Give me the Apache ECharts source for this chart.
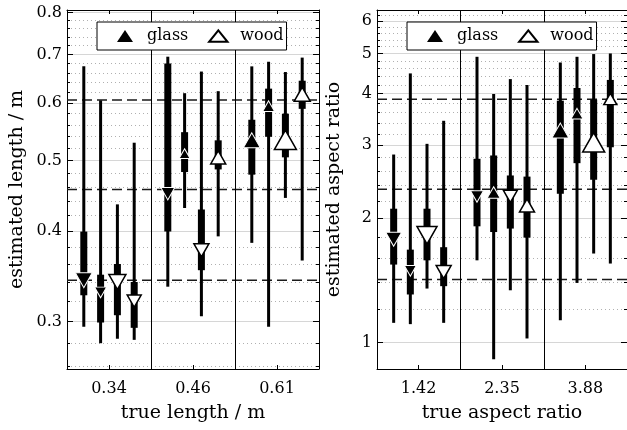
<!DOCTYPE html>
<html><head><meta charset="utf-8">
<script src="https://cdn.jsdelivr.net/npm/echarts@6/dist/echarts.min.js"></script>
<style>html,body{margin:0;padding:0;background:#fff}#c{width:627px;height:430px}</style>
</head><body><div id="c"></div>
<script>
// ---------- DATA ----------
// slot order inside each group: glass 1, glass 2, wood 1, wood 2
const slotMaterial = ['glass', 'glass', 'wood', 'wood'];

// Left panel: length
const lengthCategories = ['0.34', '0.46', '0.61'];
const lengthTrue = [0.342, 0.456, 0.606];
const lengthMedian = [0.342, 0.329, 0.340, 0.320, 0.450, 0.511, 0.376, 0.505, 0.533, 0.594, 0.534, 0.617];
const lengthQ1     = [0.326, 0.299, 0.306, 0.294, 0.399, 0.482, 0.353, 0.486, 0.478, 0.539, 0.505, 0.589];
const lengthQ3     = [0.399, 0.348, 0.360, 0.340, 0.680, 0.547, 0.428, 0.533, 0.569, 0.628, 0.580, 0.644];
const lengthLow    = [0.295, 0.280, 0.284, 0.283, 0.335, 0.430, 0.305, 0.393, 0.385, 0.295, 0.444, 0.364];
const lengthHigh   = [0.674, 0.605, 0.435, 0.529, 0.695, 0.619, 0.663, 0.623, 0.674, 0.684, 0.662, 0.693];
const lengthDir    = ['down','down','down','down','down','up','down','up','up','up','up','up'];
const lengthMarker = [17, 12, 17, 14, 14, 11, 15, 15, 17, 12, 22, 16];
const lengthRange  = [0.258, 0.806];
const lengthTicks  = [0.3, 0.4, 0.5, 0.6, 0.7, 0.8];
const lengthMinorTicks = [0.26,0.28,0.32,0.34,0.36,0.38,0.42,0.44,0.46,0.48,0.52,0.54,0.56,0.58,0.62,0.64,0.66,0.68,0.72,0.74,0.76,0.78];

// Right panel: aspect ratio
const aspectCategories = ['1.42', '2.35', '3.88'];
const aspectTrue = [1.42, 2.35, 3.88];
const aspectMedian = [1.777, 1.49, 1.816, 1.48, 2.256, 2.307, 2.256, 2.146, 3.257, 3.58, 3.05, 3.886];
const aspectQ1     = [1.543, 1.306, 1.58, 1.368, 1.91, 1.85, 1.886, 1.793, 2.29, 2.716, 2.476, 2.968];
const aspectQ3     = [2.107, 1.677, 2.107, 1.70, 2.783, 2.835, 2.536, 2.52, 3.848, 4.13, 3.87, 4.32];
const aspectLow    = [1.115, 1.107, 1.35, 1.115, 1.58, 0.91, 1.337, 1.022, 1.132, 1.393, 1.641, 1.552];
const aspectHigh   = [2.85, 4.48, 3.025, 3.44, 4.915, 3.995, 4.34, 4.20, 4.76, 4.915, 4.99, 5.007];
const aspectDir    = ['down','down','down','down','down','up','down','up','up','up','up','up'];
const aspectMarker = [16, 12, 20, 15, 13, 13, 14, 15, 17, 12, 22, 13];
const aspectRange  = [0.862, 6.38];
const aspectTicks  = [1, 2, 3, 4, 5, 6];
const aspectMinorTicks = [1.2,1.4,1.6,1.8,2.2,2.4,2.6,2.8,3.2,3.4,3.6,3.8,4.2,4.4,4.6,4.8,5.2,5.4,5.6,5.8,6.2];

// ---------- BUILD ----------
const FONT = 'DejaVu Serif';
const lg = Math.log10;
const SLOTS = slotMaterial.length + 1; // group width in x units
const snap = v => Math.round(v) + 0.5;

// legend icons (invisible margins via move-to points keep relative sizes)
const legendIcons = {
  glass: 'path://M0,0M20,13M10,0.5L18,12.5L2,12.5Z',
  wood: 'path://M0,0M20,13M10,0.8L19.2,12.3L0.8,12.3Z'
};

const chart = echarts.init(document.getElementById('c'), null, {renderer: 'canvas'});

const grids = [], xAxes = [], yAxes = [], series = [], legends = [];

function addPanel(i, p) {
  const nGroups = p.categories.length;
  const centers = p.categories.map((c, g) => g * SLOTS + SLOTS / 2);
  grids.push({left: p.left, top: 10, width: 252, height: 359});
  const xBase = {gridIndex: i, type: 'value', min: 0, max: nGroups * SLOTS,
    axisLine: {show: true, onZero: false, lineStyle: {color: '#000', width: 1}},
    axisTick: {show: true, inside: true, length: 4, customValues: centers, lineStyle: {color: '#000'}},
    splitLine: {show: false}};
  xAxes.push(Object.assign({}, xBase, {position: 'bottom',
    axisLabel: {show: true, customValues: centers, margin: 12, color: '#000', fontFamily: FONT, fontSize: 16,
      formatter: v => p.categories[Math.round((v - SLOTS / 2) / SLOTS)]},
    name: p.xName, nameLocation: 'middle', nameGap: 35,
    nameTextStyle: {color: '#000', fontFamily: FONT, fontSize: 19}}));
  xAxes.push(Object.assign({}, xBase, {position: 'top', axisLabel: {show: false}}));

  const majors = p.ticks.map(lg), minors = p.minor.map(lg);
  const yBase = {gridIndex: i, type: 'value', min: lg(p.range[0]), max: lg(p.range[1]),
    axisLabel: {show: false}, splitLine: {show: false}};
  yAxes.push(Object.assign({}, yBase, {position: 'left',
    axisLine: {show: true, onZero: false, lineStyle: {color: '#000', width: 1}},
    axisTick: {show: true, inside: true, length: 6, customValues: majors, lineStyle: {color: '#000'}},
    axisLabel: {show: true, customValues: majors, margin: 5, color: '#000', fontFamily: FONT, fontSize: 16,
      formatter: v => p.fmt(Math.pow(10, v))},
    splitLine: {show: true, lineStyle: {color: '#d6d6d6', width: 1}},
    name: p.yName, nameLocation: 'middle', nameGap: p.yGap,
    nameTextStyle: {color: '#000', fontFamily: FONT, fontSize: 19}}));
  yAxes.push(Object.assign({}, yBase, {position: 'left',
    axisLine: {show: false, onZero: false},
    axisTick: {show: true, inside: true, length: 3, customValues: minors, lineStyle: {color: '#000'}},
    splitLine: {show: true, lineStyle: {color: '#b0b0b0', width: 1, type: [1, 3]}}}));
  yAxes.push(Object.assign({}, yBase, {position: 'right',
    axisLine: {show: true, onZero: false, lineStyle: {color: '#000', width: 1}},
    axisTick: {show: true, inside: true, length: 6, customValues: majors, lineStyle: {color: '#000'}}}));
  yAxes.push(Object.assign({}, yBase, {position: 'right',
    axisLine: {show: false, onZero: false},
    axisTick: {show: true, inside: true, length: 3, customValues: minors, lineStyle: {color: '#000'}}}));

  const xi = 2 * i, yi = 4 * i;

  // dashed reference lines at true values
  series.push({type: 'custom', xAxisIndex: xi, yAxisIndex: yi, z: 1, silent: true,
    data: p.trueVals.map(v => [lg(v)]),
    renderItem: (params, api) => {
      const cs = params.coordSys;
      const y = api.coord([0, api.value(0)])[1];
      return {type: 'line', shape: {x1: cs.x, y1: y, x2: cs.x + cs.width, y2: y},
        style: {stroke: '#1a1a1a', lineWidth: 1.5, lineDash: [10, 5]}};
    }});
  // group dividers
  series.push({type: 'custom', xAxisIndex: xi, yAxisIndex: yi, z: 1, silent: true,
    data: p.categories.slice(1).map((c, g) => [(g + 1) * SLOTS]),
    renderItem: (params, api) => {
      const cs = params.coordSys;
      const x = snap(api.coord([api.value(0), lg(p.range[0])])[0]);
      return {type: 'line', shape: {x1: x, y1: cs.y, x2: x, y2: cs.y + cs.height},
        style: {stroke: '#000', lineWidth: 1}};
    }});

  const pos = p.median.map((m, k) => Math.floor(k / slotMaterial.length) * SLOTS + (k % slotMaterial.length) + 1);
  // whiskers + IQR boxes
  series.push({type: 'custom', xAxisIndex: xi, yAxisIndex: yi, z: 3, silent: true,
    data: p.median.map((m, k) => [pos[k], lg(p.low[k]), lg(p.high[k]), lg(p.q1[k]), lg(p.q3[k])]),
    renderItem: (params, api) => {
      const x = api.value(0);
      const pl = api.coord([x, api.value(1)]), ph = api.coord([x, api.value(2)]);
      const p1 = api.coord([x, api.value(3)]), p3 = api.coord([x, api.value(4)]);
      return {type: 'group', children: [
        {type: 'line', shape: {x1: pl[0], y1: pl[1], x2: ph[0], y2: ph[1]}, style: {stroke: '#000', lineWidth: 3}},
        {type: 'rect', shape: {x: p1[0] - 3.5, y: p3[1], width: 7, height: p1[1] - p3[1]}, style: {fill: '#000'}}
      ]};
    }});
  // markers
  ['glass', 'wood'].forEach(mat => {
    const data = [];
    p.median.forEach((m, k) => {
      if (slotMaterial[k % slotMaterial.length] !== mat) return;
      const w = p.marker[k];
      data.push({value: [pos[k], lg(m)], symbolSize: [w, w * 0.88], symbolRotate: p.dir[k] === 'down' ? 180 : 0});
    });
    series.push({type: 'scatter', name: mat, xAxisIndex: xi, yAxisIndex: yi, z: 4, symbol: 'triangle',
      data: data, silent: true,
      itemStyle: mat === 'glass' ? {color: '#000', borderColor: '#fff', borderWidth: 1, opacity: 1}
                                 : {color: '#fff', borderColor: '#000', borderWidth: 1.5, opacity: 1},
      emphasis: {disabled: true}});
  });

  legends.push({left: p.left + 30, top: 22, orient: 'horizontal',
    data: [{name: 'glass', icon: legendIcons.glass, itemStyle: {borderWidth: 0}},
           {name: 'wood', icon: legendIcons.wood}],
    itemWidth: 20, itemHeight: 13, itemGap: 19, padding: [6, 3, 6, 18],
    borderColor: '#000', borderWidth: 1, borderRadius: 0, backgroundColor: '#fff',
    textStyle: {color: '#000', fontFamily: FONT, fontSize: 16, padding: [0, 0, 0, 7]}, selectedMode: false});
}

addPanel(0, {left: 67, categories: lengthCategories, trueVals: lengthTrue, median: lengthMedian,
  q1: lengthQ1, q3: lengthQ3, low: lengthLow, high: lengthHigh, dir: lengthDir, marker: lengthMarker,
  range: lengthRange, ticks: lengthTicks, minor: lengthMinorTicks, fmt: v => v.toFixed(1),
  xName: 'true length / m', yName: 'estimated length / m', yGap: 40});
addPanel(1, {left: 377, categories: aspectCategories, trueVals: aspectTrue, median: aspectMedian,
  q1: aspectQ1, q3: aspectQ3, low: aspectLow, high: aspectHigh, dir: aspectDir, marker: aspectMarker,
  range: aspectRange, ticks: aspectTicks, minor: aspectMinorTicks, fmt: v => String(Math.round(v)),
  xName: 'true aspect ratio', yName: 'estimated aspect ratio', yGap: 33});

chart.setOption({animation: false, backgroundColor: '#fff', grid: grids, xAxis: xAxes, yAxis: yAxes,
  legend: legends, series: series, tooltip: {show: false}});
</script></body></html>
